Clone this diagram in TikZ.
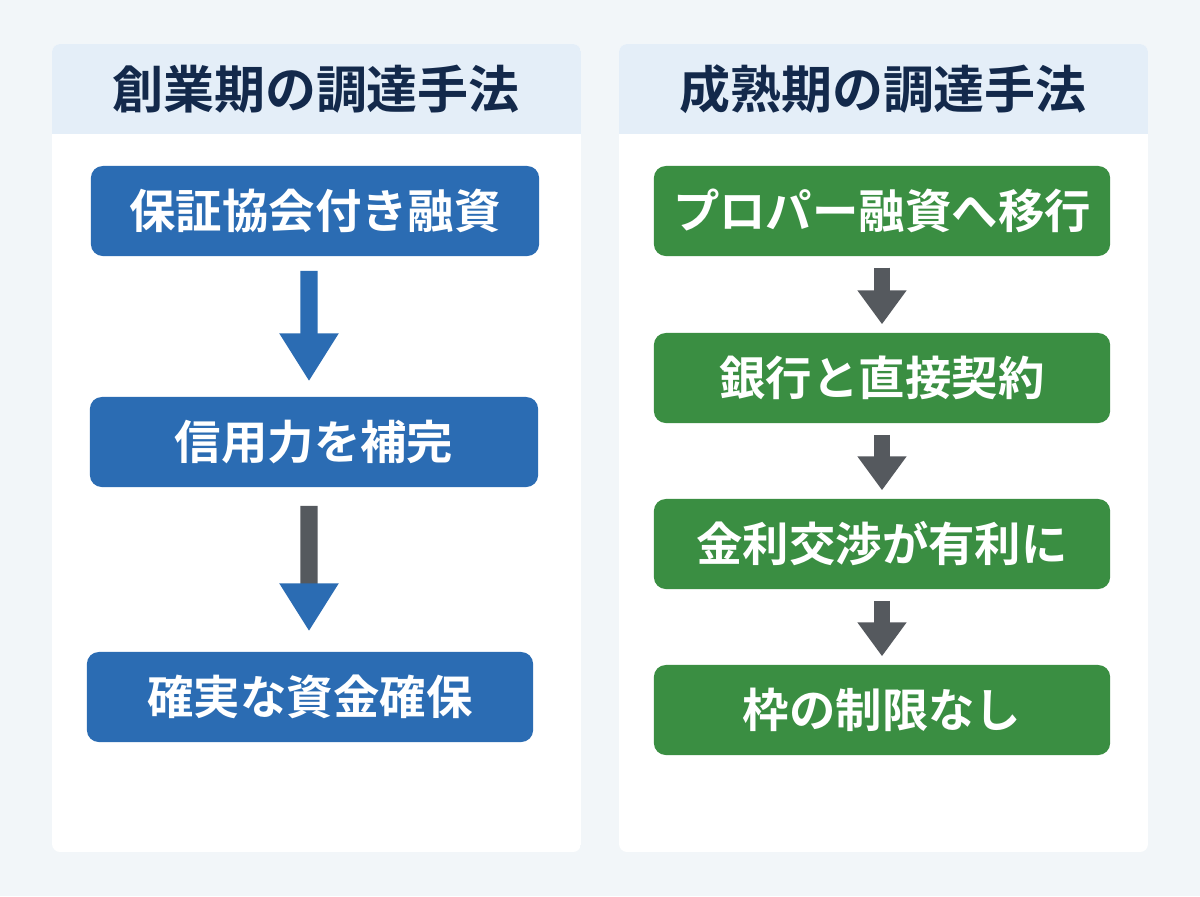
\documentclass[tikz,border=0pt]{standalone}
\usepackage{fontspec}
\newfontfamily\jpbold{Noto Sans CJK JP Bold}
\usepackage{xcolor}
\definecolor{pagebg}{HTML}{F2F6F9}
\definecolor{headbg}{HTML}{E4EEF8}
\definecolor{headtext}{HTML}{13294B}
\definecolor{stepblue}{HTML}{2B6CB3}
\definecolor{stepgreen}{HTML}{3A8E42}
\definecolor{arrgray}{HTML}{55595E}
\usepackage{tikz}
\usetikzlibrary{positioning,arrows.meta}

\begin{document}
\begin{tikzpicture}[
  x=0.01cm, y=-0.01cm,
  panel/.style={fill=white, rounded corners=2.3pt},
  title/.style={font=\jpbold\fontsize{14.5pt}{16pt}\selectfont, text=headtext},
  stepbox/.style={rounded corners=3.4pt, minimum height=0.9cm, inner sep=0pt,
                  text=white, font=\jpbold\fontsize{13.2pt}{15pt}\selectfont},
  bluebox/.style={stepbox, fill=stepblue, minimum width=4.48cm},
  greenbox/.style={stepbox, fill=stepgreen, minimum width=4.56cm},
  bigarr/.style={line width=0.17cm, draw=stepblue,
                 -{Triangle[width=0.56cm, length=0.48cm]}},
  smallarr/.style={line width=0.16cm, draw=arrgray,
                   -{Triangle[width=0.47cm, length=0.34cm]}, shorten <=0.11cm, shorten >=0.08cm},
]
  % background and panels
  \fill[pagebg] (0,0) rectangle (1200,896);
  \foreach \px in {52,619}{
    \begin{scope}
      \clip[rounded corners=2.3pt] (\px,44) rectangle ++(529,808);
      \fill[white] (\px,44) rectangle ++(529,808);
      \fill[headbg] (\px,44) rectangle ++(529,90);
    \end{scope}
  }

  % left column: startup phase
  \node[title] (lhead) at (316,89) {創業期の調達手法};
  \node[bluebox] (l1) at (315,211) {保証協会付き融資};
  \node[bluebox] (l2) at (314,442) {信用力を補完};
  \node[bluebox, minimum width=4.46cm] (l3) at (310,697) {確実な資金確保};

  % right column: mature phase
  \node[title] (rhead) at (883,89) {成熟期の調達手法};
  \node[greenbox] (r1) at (882,211) {プロパー融資へ移行};
  \node[greenbox] (r2) at (882,378) {銀行と直接契約};
  \node[greenbox] (r3) at (882,544) {金利交渉が有利に};
  \node[greenbox] (r4) at (882,710) {枠の制限なし};

  % Arrows
  \draw[bigarr, shorten <=0.14cm, shorten >=0.15cm]
    ([xshift=-0.06cm]l1.south) -- ([xshift=-0.05cm]l2.north);
  \draw[bigarr, draw=arrgray, -{Triangle[width=0.56cm, length=0.48cm, color=stepblue]},
        shorten <=0.18cm, shorten >=0.2cm]
    ([xshift=-0.05cm]l2.south) -- ([xshift=-0.01cm]l3.north);
  \draw[smallarr] (r1) -- (r2);
  \draw[smallarr] (r2) -- (r3);
  \draw[smallarr] (r3) -- (r4);
\end{tikzpicture}
\end{document}
